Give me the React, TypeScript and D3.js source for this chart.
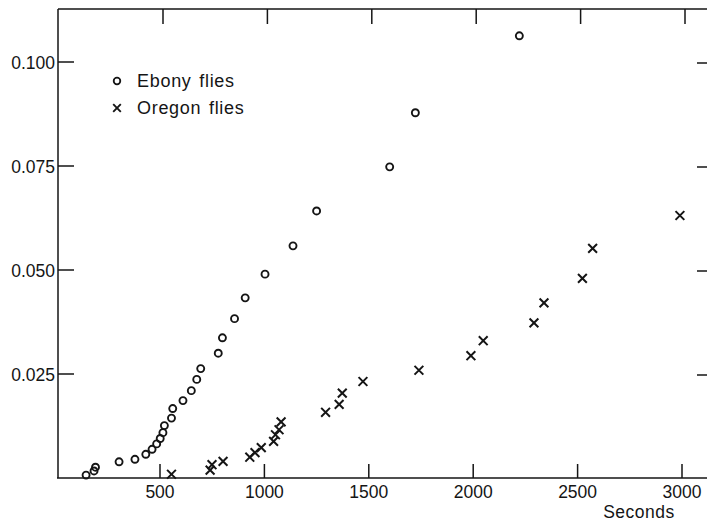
import React from 'react';
import * as d3 from 'd3';

// Ebony flies (circles): seconds, value
const ebonySeconds = [146, 184, 191, 304, 380, 432, 462, 484, 501, 514, 521, 555, 561, 610, 650, 676, 695, 779, 799, 857, 908, 1003, 1137, 1250, 1600, 1723, 2221];
const ebonyValues = [0.0007, 0.0017, 0.0026, 0.0039, 0.0045, 0.0057, 0.0069, 0.0082, 0.0095, 0.0109, 0.0126, 0.0144, 0.0167, 0.0186, 0.021, 0.0237, 0.0263, 0.03, 0.0337, 0.0383, 0.0433, 0.049, 0.0558, 0.0642, 0.0748, 0.0878, 0.1063];

// Oregon flies (crosses)
const oregonSeconds = [555, 740, 749, 802, 930, 955, 985, 1044, 1053, 1070, 1080, 1293, 1358, 1373, 1472, 1740, 1989, 2048, 2291, 2339, 2523, 2572, 2990];
const oregonValues = [0.0009, 0.0019, 0.0032, 0.004, 0.005, 0.0061, 0.0073, 0.0088, 0.0104, 0.0116, 0.0135, 0.0158, 0.0177, 0.0204, 0.0232, 0.0259, 0.0294, 0.033, 0.0373, 0.0421, 0.048, 0.0552, 0.0631];

const xTicks = [500, 1000, 1500, 2000, 2500, 3000];
const yTicks = [0.025, 0.05, 0.075, 0.1];
const yTickLabels = ['0.025', '0.050', '0.075', '0.100'];

const W = 707;
const H = 523;
const ink = '#151515';
const font = '"Liberation Sans", Arial, sans-serif';

export default function App() {
  const x = d3.scaleLinear().domain([0, 3000]).range([55.6, 682]);
  const y = d3.scaleLinear().domain([0, 0.1]).range([478, 62]);

  const left = 58;
  const right = 712;
  const top = 9;
  const bottom = y(0);

  const ebony = ebonySeconds.map((s, i) => ({ s, v: ebonyValues[i] }));
  const oregon = oregonSeconds.map((s, i) => ({ s, v: oregonValues[i] }));

  const cross = (cx: number, cy: number, h: number) =>
    `M${cx - h},${cy - h}L${cx + h},${cy + h}M${cx - h},${cy + h}L${cx + h},${cy - h}`;

  return (
    <svg width={W} height={H} style={{ position: 'absolute', left: 0, top: 0, background: '#fff' }}
      fontFamily={font}>
      {/* frame */}
      <g stroke={ink} strokeWidth={1.5} fill="none">
        <line x1={left} y1={top} x2={left} y2={bottom} />
        <line x1={left - 1} y1={bottom} x2={W} y2={bottom} />
        <line x1={left} y1={top} x2={W} y2={top} />
        {xTicks.map(t => (
          <line key={'b' + t} x1={x(t)} x2={x(t)} y1={bottom} y2={bottom - 14} />
        ))}
        {xTicks.map(t => (
          <line key={'t' + t} x1={x(t) + 3} x2={x(t) + 3} y1={top} y2={top + 15} />
        ))}
        {yTicks.map(t => (
          <line key={'l' + t} x1={left} x2={left + 16} y1={y(t)} y2={y(t)} />
        ))}
        {yTicks.map(t => (
          <line key={'r' + t} x1={right - 15} x2={right} y1={y(t) + 1} y2={y(t) + 1} />
        ))}
      </g>

      {/* tick labels */}
      <g fill={ink} fontSize={17.5}>
        {xTicks.map(t => (
          <text key={t} x={x(t)} y={498} textAnchor="middle">{t}</text>
        ))}
        {yTicks.map((t, i) => (
          <text key={t} x={55} y={y(t) + 6.5} textAnchor="end">{yTickLabels[i]}</text>
        ))}
        <text x={639} y={518} textAnchor="middle" letterSpacing={0.5}>Seconds</text>
      </g>

      {/* legend */}
      <g fill={ink} fontSize={18} letterSpacing={0.7} wordSpacing={2}>
        <circle cx={117} cy={81} r={3.3} fill="none" stroke={ink} strokeWidth={1.8} />
        <text x={137} y={87}>Ebony flies</text>
        <path d={cross(117, 108, 3.8)} stroke={ink} strokeWidth={1.9} fill="none" />
        <text x={137} y={114}>Oregon flies</text>
      </g>

      {/* data */}
      <g fill="none" stroke={ink} strokeWidth={1.9}>
        {ebony.map((d, i) => (
          <circle key={i} cx={x(d.s)} cy={y(d.v)} r={3.5} />
        ))}
      </g>
      <g fill="none" stroke={ink} strokeWidth={2}>
        {oregon.map((d, i) => (
          <path key={i} d={cross(x(d.s), y(d.v), 4.4)} />
        ))}
      </g>
    </svg>
  );
}
